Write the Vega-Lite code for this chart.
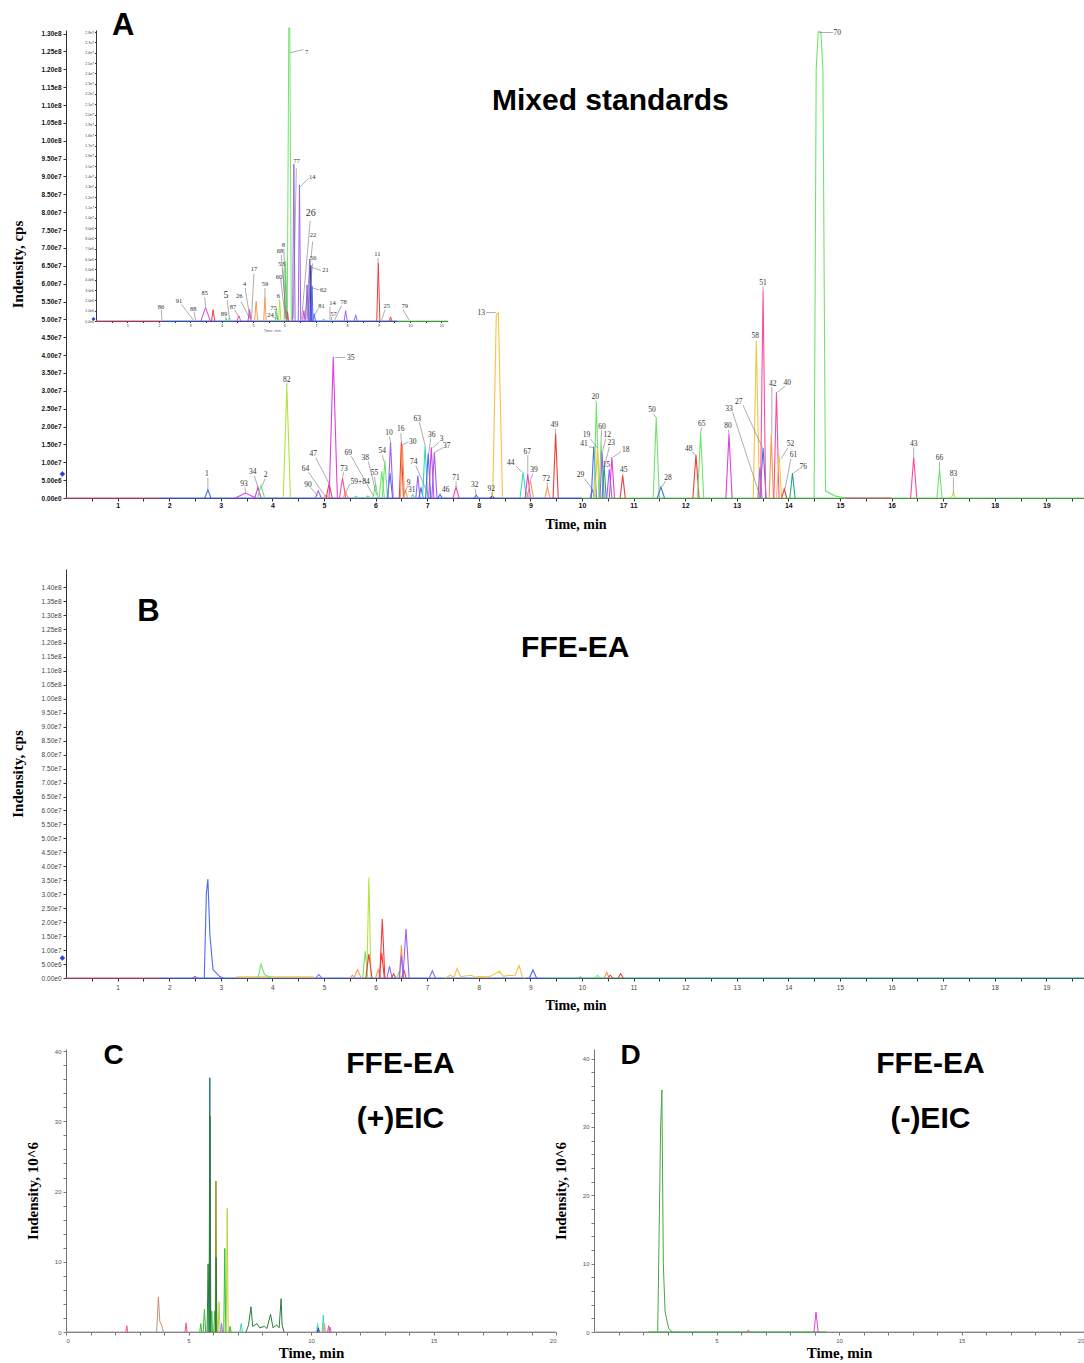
{
"$schema":"https://vega.github.io/schema/vega-lite/v6.json",
"padding":{"left":10,"top":10,"right":0,"bottom":0},
"background":"white",
"config":{"view":{"stroke":null},"axis":{"grid":false,"labelOverlap":false,"labelBound":false,"domainColor":"#333","tickColor":"#333"},"line":{"strokeWidth":1.1}},
"datasets":{
"one":[{}],
"A":[
{"s":"bA1","c":"basered","t":0,"v":0},{"s":"bA1","c":"basered","t":1.8,"v":0},
{"s":"bA2","c":"blue","t":1.8,"v":0},{"s":"bA2","c":"blue","t":10.0,"v":0},
{"s":"bA3","c":"green","t":10.0,"v":0},{"s":"bA3","c":"green","t":19.75,"v":0},
{"s":"bA4","c":"basered","t":15.1,"v":0},{"s":"bA4","c":"basered","t":16.0,"v":0},
{"s":"a1","c":"blue","t":2.69,"v":0},{"s":"a1","c":"blue","t":2.75,"v":2.3},{"s":"a1","c":"blue","t":2.81,"v":0},
{"s":"a93","c":"magenta","t":3.28,"v":0},{"s":"a93","c":"magenta","t":3.48,"v":1.4},{"s":"a93","c":"magenta","t":3.68,"v":0},
{"s":"a34","c":"magenta","t":3.66,"v":0},{"s":"a34","c":"magenta","t":3.72,"v":3.0},{"s":"a34","c":"magenta","t":3.78,"v":0},
{"s":"a2","c":"green","t":3.71,"v":0},{"s":"a2","c":"green","t":3.78,"v":3.5},{"s":"a2","c":"green","t":3.85,"v":0},
{"s":"a82","c":"lime","t":4.21,"v":0},{"s":"a82","c":"lime","t":4.28,"v":31.2},{"s":"a82","c":"lime","t":4.35,"v":0},
{"s":"a90","c":"purple","t":4.83,"v":0},{"s":"a90","c":"purple","t":4.89,"v":2.0},{"s":"a90","c":"purple","t":4.95,"v":0},
{"s":"a64","c":"orange","t":4.99,"v":0},{"s":"a64","c":"orange","t":5.04,"v":0.8},{"s":"a64","c":"orange","t":5.09,"v":0},
{"s":"a47","c":"red","t":5.04,"v":0},{"s":"a47","c":"red","t":5.1,"v":4.0},{"s":"a47","c":"red","t":5.16,"v":0},
{"s":"a35","c":"magenta","t":5.1,"v":0},{"s":"a35","c":"magenta","t":5.18,"v":39.5},{"s":"a35","c":"magenta","t":5.26,"v":0},
{"s":"a73","c":"pink","t":5.3,"v":0},{"s":"a73","c":"pink","t":5.36,"v":5.6},{"s":"a73","c":"pink","t":5.42,"v":0},
{"s":"a59","c":"orange","t":5.37,"v":0},{"s":"a59","c":"orange","t":5.42,"v":1.6},{"s":"a59","c":"orange","t":5.47,"v":0},
{"s":"a69","c":"green","t":5.57,"v":0},{"s":"a69","c":"green","t":5.62,"v":0.5},{"s":"a69","c":"green","t":5.67,"v":0},
{"s":"a38","c":"green","t":5.8,"v":0},{"s":"a38","c":"green","t":5.85,"v":0.6},{"s":"a38","c":"green","t":5.9,"v":0},
{"s":"a55","c":"green","t":5.95,"v":0},{"s":"a55","c":"green","t":6.0,"v":4.0},{"s":"a55","c":"green","t":6.05,"v":0},
{"s":"a54b","c":"green","t":6.07,"v":0},{"s":"a54b","c":"green","t":6.12,"v":7.5},{"s":"a54b","c":"green","t":6.17,"v":0},
{"s":"a54","c":"green","t":6.13,"v":0},{"s":"a54","c":"green","t":6.18,"v":10.5},{"s":"a54","c":"green","t":6.23,"v":0},
{"s":"a10b","c":"blue","t":6.23,"v":0},{"s":"a10b","c":"blue","t":6.28,"v":7.0},{"s":"a10b","c":"blue","t":6.33,"v":0},
{"s":"a10","c":"purple","t":6.24,"v":0},{"s":"a10","c":"purple","t":6.29,"v":15.6},{"s":"a10","c":"purple","t":6.34,"v":0},
{"s":"a16","c":"red","t":6.46,"v":0},{"s":"a16","c":"red","t":6.5,"v":15.6},{"s":"a16","c":"red","t":6.54,"v":0},
{"s":"a30","c":"orange","t":6.48,"v":0},{"s":"a30","c":"orange","t":6.52,"v":15.0},{"s":"a30","c":"orange","t":6.56,"v":0},
{"s":"a9","c":"orange","t":6.54,"v":0},{"s":"a9","c":"orange","t":6.58,"v":2.0},{"s":"a9","c":"orange","t":6.62,"v":0},
{"s":"a31","c":"green","t":6.68,"v":0},{"s":"a31","c":"green","t":6.72,"v":1.0},{"s":"a31","c":"green","t":6.76,"v":0},
{"s":"a74","c":"purple","t":6.78,"v":0},{"s":"a74","c":"purple","t":6.82,"v":6.3},{"s":"a74","c":"purple","t":6.86,"v":0},
{"s":"a74b","c":"blue","t":6.84,"v":0},{"s":"a74b","c":"blue","t":6.88,"v":3.0},{"s":"a74b","c":"blue","t":6.92,"v":0},
{"s":"a63","c":"cyan","t":6.91,"v":0},{"s":"a63","c":"cyan","t":6.96,"v":14.7},{"s":"a63","c":"cyan","t":7.01,"v":0},
{"s":"a36","c":"blue","t":6.97,"v":0},{"s":"a36","c":"blue","t":7.02,"v":12.5},{"s":"a36","c":"blue","t":7.07,"v":0},
{"s":"a3","c":"magenta","t":7.03,"v":0},{"s":"a3","c":"magenta","t":7.08,"v":14.2},{"s":"a3","c":"magenta","t":7.13,"v":0},
{"s":"a37","c":"purple","t":7.09,"v":0},{"s":"a37","c":"purple","t":7.14,"v":12.8},{"s":"a37","c":"purple","t":7.19,"v":0},
{"s":"a46","c":"blue","t":7.21,"v":0},{"s":"a46","c":"blue","t":7.25,"v":1.0},{"s":"a46","c":"blue","t":7.29,"v":0},
{"s":"a71","c":"pink","t":7.5,"v":0},{"s":"a71","c":"pink","t":7.56,"v":3.0},{"s":"a71","c":"pink","t":7.62,"v":0},
{"s":"a32","c":"blue","t":7.91,"v":0},{"s":"a32","c":"blue","t":7.95,"v":0.8},{"s":"a32","c":"blue","t":7.99,"v":0},
{"s":"a92","c":"navy","t":8.22,"v":0},{"s":"a92","c":"navy","t":8.26,"v":0.5},{"s":"a92","c":"navy","t":8.3,"v":0},
{"s":"a13","c":"yellow","t":8.27,"v":0},{"s":"a13","c":"yellow","t":8.34,"v":51.4},{"s":"a13","c":"yellow","t":8.38,"v":51.8},{"s":"a13","c":"yellow","t":8.46,"v":0},
{"s":"a44","c":"cyan","t":8.8,"v":0},{"s":"a44","c":"cyan","t":8.86,"v":7.2},{"s":"a44","c":"cyan","t":8.92,"v":0},
{"s":"a44b","c":"green","t":8.89,"v":0},{"s":"a44b","c":"green","t":8.93,"v":1.5},{"s":"a44b","c":"green","t":8.97,"v":0},
{"s":"a67","c":"magenta","t":8.9,"v":0},{"s":"a67","c":"magenta","t":8.95,"v":6.7},{"s":"a67","c":"magenta","t":9.0,"v":0},
{"s":"a39","c":"orange","t":8.94,"v":0},{"s":"a39","c":"orange","t":9.0,"v":4.9},{"s":"a39","c":"orange","t":9.06,"v":0},
{"s":"a72","c":"orange","t":9.28,"v":0},{"s":"a72","c":"orange","t":9.33,"v":3.1},{"s":"a72","c":"orange","t":9.38,"v":0},
{"s":"a49","c":"red","t":9.44,"v":0},{"s":"a49","c":"red","t":9.49,"v":18.0},{"s":"a49","c":"red","t":9.54,"v":0},
{"s":"a29","c":"purple","t":10.16,"v":0},{"s":"a29","c":"purple","t":10.2,"v":2.5},{"s":"a29","c":"purple","t":10.24,"v":0},
{"s":"a41","c":"blue","t":10.18,"v":0},{"s":"a41","c":"blue","t":10.23,"v":14.5},{"s":"a41","c":"blue","t":10.28,"v":0},
{"s":"a20","c":"green","t":10.23,"v":0},{"s":"a20","c":"green","t":10.28,"v":26.7},{"s":"a20","c":"green","t":10.33,"v":0},
{"s":"a19","c":"yellow","t":10.25,"v":0},{"s":"a19","c":"yellow","t":10.3,"v":14.0},{"s":"a19","c":"yellow","t":10.35,"v":0},
{"s":"a60","c":"green","t":10.33,"v":0},{"s":"a60","c":"green","t":10.37,"v":16.0},{"s":"a60","c":"green","t":10.41,"v":0},
{"s":"a12","c":"purple","t":10.35,"v":0},{"s":"a12","c":"purple","t":10.39,"v":13.0},{"s":"a12","c":"purple","t":10.43,"v":0},
{"s":"a23","c":"teal","t":10.39,"v":0},{"s":"a23","c":"teal","t":10.43,"v":9.0},{"s":"a23","c":"teal","t":10.47,"v":0},
{"s":"a15","c":"purple","t":10.48,"v":0},{"s":"a15","c":"purple","t":10.53,"v":8.0},{"s":"a15","c":"purple","t":10.58,"v":0},
{"s":"a18","c":"magenta","t":10.53,"v":0},{"s":"a18","c":"magenta","t":10.58,"v":11.4},{"s":"a18","c":"magenta","t":10.63,"v":0},
{"s":"a45","c":"red","t":10.74,"v":0},{"s":"a45","c":"red","t":10.79,"v":6.3},{"s":"a45","c":"red","t":10.84,"v":0},
{"s":"a50","c":"green","t":11.38,"v":0},{"s":"a50","c":"green","t":11.44,"v":22.5},{"s":"a50","c":"green","t":11.5,"v":0},
{"s":"a28","c":"blue","t":11.46,"v":0},{"s":"a28","c":"blue","t":11.53,"v":3.1},{"s":"a28","c":"blue","t":11.6,"v":0},
{"s":"a48","c":"red","t":12.15,"v":0},{"s":"a48","c":"red","t":12.21,"v":12.1},{"s":"a48","c":"red","t":12.27,"v":0},
{"s":"a65","c":"green","t":12.24,"v":0},{"s":"a65","c":"green","t":12.3,"v":18.2},{"s":"a65","c":"green","t":12.36,"v":0},
{"s":"a80","c":"magenta","t":12.79,"v":0},{"s":"a80","c":"magenta","t":12.85,"v":17.9},{"s":"a80","c":"magenta","t":12.91,"v":0},
{"s":"a58","c":"yellow","t":13.32,"v":0},{"s":"a58","c":"yellow","t":13.38,"v":44.0},{"s":"a58","c":"yellow","t":13.44,"v":0},
{"s":"a33","c":"purple","t":13.41,"v":0},{"s":"a33","c":"purple","t":13.45,"v":8.5},{"s":"a33","c":"purple","t":13.49,"v":0},
{"s":"a27","c":"blue","t":13.45,"v":0},{"s":"a27","c":"blue","t":13.51,"v":14.0},{"s":"a27","c":"blue","t":13.57,"v":0},
{"s":"a51","c":"pink","t":13.46,"v":0},{"s":"a51","c":"pink","t":13.51,"v":58.0},{"s":"a51","c":"pink","t":13.56,"v":0},
{"s":"a42","c":"orange","t":13.63,"v":0},{"s":"a42","c":"orange","t":13.67,"v":17.7},{"s":"a42","c":"orange","t":13.71,"v":0},
{"s":"a40","c":"pink","t":13.72,"v":0},{"s":"a40","c":"pink","t":13.77,"v":29.6},{"s":"a40","c":"pink","t":13.82,"v":0},
{"s":"a52","c":"yellow","t":13.77,"v":0},{"s":"a52","c":"yellow","t":13.82,"v":12.1},{"s":"a52","c":"yellow","t":13.87,"v":0},
{"s":"a61","c":"red","t":13.87,"v":0},{"s":"a61","c":"red","t":13.92,"v":2.5},{"s":"a61","c":"red","t":13.97,"v":0},
{"s":"a76","c":"teal","t":14.03,"v":0},{"s":"a76","c":"teal","t":14.08,"v":7.0},{"s":"a76","c":"teal","t":14.13,"v":0},
{"s":"a70","c":"green","t":14.5,"v":0},{"s":"a70","c":"green","t":14.54,"v":120},{"s":"a70","c":"green","t":14.58,"v":130.5},{"s":"a70","c":"green","t":14.63,"v":130.5},{"s":"a70","c":"green","t":14.67,"v":120},{"s":"a70","c":"green","t":14.72,"v":2},{"s":"a70","c":"green","t":14.9,"v":0.6},{"s":"a70","c":"green","t":15.1,"v":0},
{"s":"a43","c":"pink","t":16.37,"v":0},{"s":"a43","c":"pink","t":16.43,"v":11.4},{"s":"a43","c":"pink","t":16.49,"v":0},
{"s":"a66","c":"green","t":16.88,"v":0},{"s":"a66","c":"green","t":16.93,"v":8.0},{"s":"a66","c":"green","t":16.98,"v":0},
{"s":"a83","c":"lime","t":17.16,"v":0},{"s":"a83","c":"lime","t":17.2,"v":1.5},{"s":"a83","c":"lime","t":17.24,"v":0}
],
"AL":[
{"lab":"1","t":2.73,"v":6.7},{"lab":"93","t":3.45,"v":3.9},{"lab":"34","t":3.62,"v":7.2},{"lab":"2","t":3.87,"v":6.3},
{"lab":"82","t":4.28,"v":33},{"lab":"90","t":4.69,"v":3.7},{"lab":"64","t":4.64,"v":8.2},{"lab":"47","t":4.79,"v":12.4},
{"lab":"35","t":5.52,"v":39.3},{"lab":"73","t":5.39,"v":8.2},{"lab":"59+84","t":5.7,"v":4.6},{"lab":"69","t":5.47,"v":12.7},
{"lab":"38","t":5.8,"v":11.2},{"lab":"55","t":5.98,"v":6.9},{"lab":"54","t":6.13,"v":13.1},{"lab":"10","t":6.26,"v":18.2},
{"lab":"16","t":6.49,"v":19.2},{"lab":"30","t":6.72,"v":15.7},{"lab":"9","t":6.64,"v":4.2},{"lab":"31","t":6.7,"v":2.2},
{"lab":"74","t":6.74,"v":10},{"lab":"63","t":6.81,"v":22.2},{"lab":"36","t":7.09,"v":17.7},{"lab":"3","t":7.28,"v":16.4},
{"lab":"37","t":7.38,"v":14.5},{"lab":"46","t":7.36,"v":2.2},{"lab":"71","t":7.56,"v":5.6},{"lab":"32","t":7.92,"v":3.5},
{"lab":"92","t":8.24,"v":2.5},{"lab":"13","t":8.05,"v":51.9},{"lab":"44","t":8.62,"v":9.9},{"lab":"67","t":8.94,"v":13},
{"lab":"39","t":9.07,"v":7.8},{"lab":"72","t":9.31,"v":5.4},{"lab":"49","t":9.47,"v":20.4},{"lab":"29","t":9.97,"v":6.4},
{"lab":"41","t":10.04,"v":15},{"lab":"19","t":10.09,"v":17.6},{"lab":"20","t":10.26,"v":28.3},{"lab":"60","t":10.39,"v":20},
{"lab":"12","t":10.49,"v":17.6},{"lab":"23","t":10.57,"v":15.3},{"lab":"15","t":10.47,"v":9.2},{"lab":"18","t":10.85,"v":13.4},
{"lab":"45","t":10.81,"v":7.8},{"lab":"50","t":11.36,"v":24.6},{"lab":"28","t":11.67,"v":5.7},{"lab":"48","t":12.07,"v":13.8},
{"lab":"65","t":12.32,"v":20.8},{"lab":"80","t":12.83,"v":20.1},{"lab":"33","t":12.85,"v":25},{"lab":"27","t":13.04,"v":27},
{"lab":"58","t":13.36,"v":45.4},{"lab":"51","t":13.51,"v":60.3},{"lab":"42","t":13.7,"v":32},{"lab":"40","t":13.98,"v":32.3},
{"lab":"52","t":14.04,"v":15},{"lab":"61","t":14.1,"v":12},{"lab":"76","t":14.29,"v":8.8},{"lab":"43","t":16.43,"v":15.2},
{"lab":"66","t":16.93,"v":11.1},{"lab":"83","t":17.2,"v":6.8},{"lab":"70","t":14.95,"v":130.3}
],
"AD":[
{"t":2.75,"v":5.6,"t2":2.75,"v2":2.3},{"t":3.47,"v":3.0,"t2":3.48,"v2":1.4},{"t":3.65,"v":6.2,"t2":3.72,"v2":3.0},{"t":3.86,"v":5.4,"t2":3.8,"v2":3.4},
{"t":4.28,"v":32.2,"t2":4.28,"v2":31.2},{"t":4.74,"v":3.0,"t2":4.88,"v2":0.6},{"t":4.7,"v":7.2,"t2":5.02,"v2":0.6},{"t":4.84,"v":11.3,"t2":5.1,"v2":4.0},
{"t":5.21,"v":39.3,"t2":5.41,"v2":39.3},{"t":5.38,"v":7.2,"t2":5.36,"v2":5.6},{"t":5.5,"v":3.9,"t2":5.42,"v2":1.4},{"t":5.53,"v":11.7,"t2":5.95,"v2":0.8},
{"t":5.86,"v":10.2,"t2":6.02,"v2":0.8},{"t":5.98,"v":5.9,"t2":6.0,"v2":4.0},{"t":6.13,"v":12.0,"t2":6.16,"v2":10.3},{"t":6.27,"v":17.2,"t2":6.29,"v2":15.6},
{"t":6.49,"v":18.2,"t2":6.5,"v2":15.6},{"t":6.64,"v":15.7,"t2":6.53,"v2":15.0},{"t":6.62,"v":3.4,"t2":6.57,"v2":1.6},{"t":6.78,"v":9.0,"t2":7.02,"v2":1.0},
{"t":6.85,"v":21.2,"t2":6.96,"v2":14.7},{"t":7.07,"v":16.7,"t2":7.03,"v2":12.5},{"t":7.24,"v":15.7,"t2":7.1,"v2":14.0},{"t":7.3,"v":14.0,"t2":7.15,"v2":12.8},
{"t":7.56,"v":4.6,"t2":7.56,"v2":3.0},{"t":7.93,"v":2.6,"t2":7.95,"v2":0.8},{"t":8.25,"v":1.6,"t2":8.26,"v2":0.5},{"t":8.14,"v":51.9,"t2":8.33,"v2":51.9},
{"t":8.72,"v":9.0,"t2":8.84,"v2":7.2},{"t":8.95,"v":12.0,"t2":8.95,"v2":6.7},{"t":9.05,"v":6.8,"t2":9.0,"v2":4.9},{"t":9.33,"v":4.4,"t2":9.33,"v2":3.1},
{"t":9.48,"v":19.4,"t2":9.49,"v2":18.0},{"t":10.05,"v":5.4,"t2":10.2,"v2":2.5},{"t":10.16,"v":16.6,"t2":10.3,"v2":14.0},{"t":10.13,"v":14.4,"t2":10.23,"v2":14.0},
{"t":10.27,"v":27.3,"t2":10.28,"v2":26.7},{"t":10.38,"v":19.0,"t2":10.37,"v2":16.0},{"t":10.46,"v":16.6,"t2":10.4,"v2":13.0},{"t":10.53,"v":14.3,"t2":10.44,"v2":9.0},
{"t":10.76,"v":13.0,"t2":10.6,"v2":11.4},{"t":10.8,"v":6.8,"t2":10.79,"v2":6.3},{"t":11.38,"v":23.6,"t2":11.44,"v2":22.5},{"t":11.62,"v":4.8,"t2":11.55,"v2":3.1},
{"t":12.13,"v":12.9,"t2":12.2,"v2":12.1},{"t":12.32,"v":19.8,"t2":12.3,"v2":18.2},{"t":12.84,"v":19.1,"t2":12.85,"v2":17.9},{"t":12.92,"v":24.0,"t2":13.44,"v2":1.0},
{"t":13.12,"v":26.0,"t2":13.5,"v2":14.0},{"t":13.51,"v":59.3,"t2":13.51,"v2":58.0},{"t":13.68,"v":31.0,"t2":13.68,"v2":17.7},{"t":13.94,"v":31.3,"t2":13.79,"v2":29.6},
{"t":13.99,"v":14.0,"t2":13.86,"v2":11.0},{"t":14.05,"v":11.0,"t2":13.93,"v2":2.0},{"t":14.22,"v":8.2,"t2":14.1,"v2":7.0},{"t":14.6,"v":130.3,"t2":14.87,"v2":130.3},
{"t":16.43,"v":14.2,"t2":16.43,"v2":11.4},{"t":16.93,"v":10.1,"t2":16.93,"v2":8.0},{"t":17.2,"v":5.8,"t2":17.2,"v2":1.5}
],
"I":[
{"s":"ib1","c":"basered","t":0,"v":0},{"s":"ib1","c":"basered","t":2.1,"v":0},
{"s":"ib2","c":"blue","t":2.1,"v":0},{"s":"ib2","c":"blue","t":9.6,"v":0},
{"s":"ib3","c":"green","t":9.6,"v":0},{"s":"ib3","c":"green","t":11.2,"v":0},
{"s":"i85","c":"magenta","t":3.34,"v":0},{"s":"i85","c":"magenta","t":3.49,"v":1.3},{"s":"i85","c":"magenta","t":3.64,"v":0},
{"s":"i85r","c":"red","t":3.68,"v":0},{"s":"i85r","c":"red","t":3.73,"v":1.1},{"s":"i85r","c":"red","t":3.78,"v":0},
{"s":"i89","c":"green","t":4.11,"v":0},{"s":"i89","c":"green","t":4.15,"v":0.2},{"s":"i89","c":"green","t":4.19,"v":0},
{"s":"i5","c":"green","t":4.21,"v":0},{"s":"i5","c":"green","t":4.25,"v":0.3},{"s":"i5","c":"green","t":4.29,"v":0},
{"s":"i87","c":"pink","t":4.49,"v":0},{"s":"i87","c":"pink","t":4.55,"v":0.5},{"s":"i87","c":"pink","t":4.61,"v":0},
{"s":"i4","c":"magenta","t":4.84,"v":0},{"s":"i4","c":"magenta","t":4.89,"v":1.1},{"s":"i4","c":"magenta","t":4.94,"v":0},
{"s":"i17","c":"orange","t":5.05,"v":0},{"s":"i17","c":"orange","t":5.1,"v":1.9},{"s":"i17","c":"orange","t":5.15,"v":0},
{"s":"i59","c":"orange","t":5.34,"v":0},{"s":"i59","c":"orange","t":5.38,"v":2.3},{"s":"i59","c":"orange","t":5.42,"v":0},
{"s":"i75","c":"green","t":5.71,"v":0},{"s":"i75","c":"green","t":5.75,"v":1.2},{"s":"i75","c":"green","t":5.79,"v":0},
{"s":"i24","c":"cyan","t":5.76,"v":0},{"s":"i24","c":"cyan","t":5.8,"v":0.3},{"s":"i24","c":"cyan","t":5.84,"v":0},
{"s":"i6","c":"lime","t":5.81,"v":0},{"s":"i6","c":"lime","t":5.85,"v":1.9},{"s":"i6","c":"lime","t":5.89,"v":0},
{"s":"i8","c":"green","t":5.99,"v":0},{"s":"i8","c":"green","t":6.04,"v":5.8},{"s":"i8","c":"green","t":6.09,"v":0},
{"s":"i7","c":"green","t":6.09,"v":0},{"s":"i7","c":"green","t":6.14,"v":28.4},{"s":"i7","c":"green","t":6.17,"v":28.4},{"s":"i7","c":"green","t":6.22,"v":0},
{"s":"i7r","c":"red","t":6.07,"v":0},{"s":"i7r","c":"red","t":6.1,"v":0.9},{"s":"i7r","c":"red","t":6.13,"v":0},
{"s":"i77","c":"purple","t":6.26,"v":0},{"s":"i77","c":"purple","t":6.3,"v":15.2},{"s":"i77","c":"purple","t":6.34,"v":0},
{"s":"i14","c":"purple","t":6.44,"v":0},{"s":"i14","c":"purple","t":6.48,"v":13.2},{"s":"i14","c":"purple","t":6.52,"v":0},
{"s":"i26","c":"magenta","t":6.58,"v":0},{"s":"i26","c":"magenta","t":6.62,"v":1.0},{"s":"i26","c":"magenta","t":6.66,"v":0},
{"s":"i22","c":"purple","t":6.68,"v":0},{"s":"i22","c":"purple","t":6.72,"v":3.5},{"s":"i22","c":"purple","t":6.76,"v":0},
{"s":"i56","c":"purple","t":6.76,"v":0},{"s":"i56","c":"purple","t":6.8,"v":6.0},{"s":"i56","c":"purple","t":6.84,"v":0},
{"s":"i21","c":"navy","t":6.81,"v":0},{"s":"i21","c":"navy","t":6.84,"v":5.4},{"s":"i21","c":"navy","t":6.87,"v":0},
{"s":"i62","c":"blue","t":6.85,"v":0},{"s":"i62","c":"blue","t":6.88,"v":3.4},{"s":"i62","c":"blue","t":6.91,"v":0},
{"s":"i81","c":"blue","t":6.91,"v":0},{"s":"i81","c":"blue","t":6.95,"v":0.7},{"s":"i81","c":"blue","t":6.99,"v":0},
{"s":"i72c","c":"cyan","t":7.2,"v":0},{"s":"i72c","c":"cyan","t":7.25,"v":0.2},{"s":"i72c","c":"cyan","t":7.3,"v":0},
{"s":"i78","c":"purple","t":7.9,"v":0},{"s":"i78","c":"purple","t":7.95,"v":1.0},{"s":"i78","c":"purple","t":8.0,"v":0},
{"s":"i78b","c":"purple","t":8.22,"v":0},{"s":"i78b","c":"purple","t":8.27,"v":0.6},{"s":"i78b","c":"purple","t":8.32,"v":0},
{"s":"i11","c":"red","t":8.94,"v":0},{"s":"i11","c":"red","t":8.99,"v":5.6},{"s":"i11","c":"red","t":9.04,"v":0},
{"s":"i25","c":"red","t":9.34,"v":0},{"s":"i25","c":"red","t":9.38,"v":0.4},{"s":"i25","c":"red","t":9.42,"v":0}
],
"IL":[
{"lab":"7","t":6.71,"v":26.1},{"lab":"77","t":6.39,"v":15.5},{"lab":"14","t":6.89,"v":14},{"lab":"22","t":6.91,"v":8.3},
{"lab":"56","t":6.92,"v":6.1},{"lab":"21","t":7.31,"v":4.9},{"lab":"62","t":7.24,"v":3.0},{"lab":"81","t":7.18,"v":1.5},
{"lab":"14","t":7.53,"v":1.7},{"lab":"57","t":7.56,"v":0.7},{"lab":"78","t":7.88,"v":1.8},{"lab":"11","t":8.96,"v":6.5},
{"lab":"25","t":9.26,"v":1.5},{"lab":"79","t":9.83,"v":1.5},{"lab":"8","t":5.97,"v":7.4},{"lab":"68","t":5.86,"v":6.8},
{"lab":"53","t":5.91,"v":5.5},{"lab":"60","t":5.83,"v":4.3},{"lab":"6","t":5.81,"v":2.4},{"lab":"75","t":5.65,"v":1.3},
{"lab":"24","t":5.56,"v":0.55},{"lab":"59","t":5.38,"v":3.6},{"lab":"17","t":5.03,"v":5.0},{"lab":"4","t":4.73,"v":3.6},
{"lab":"26","t":4.56,"v":2.4},{"lab":"87","t":4.36,"v":1.4},{"lab":"89","t":4.08,"v":0.7},{"lab":"85","t":3.46,"v":2.7},
{"lab":"88","t":3.1,"v":1.2},{"lab":"91","t":2.64,"v":1.9},{"lab":"86","t":2.07,"v":1.4}
],
"ILB":[{"lab":"26","t":6.84,"v":10.5},{"lab":"5","t":4.14,"v":2.5}],
"ID":[
{"t":6.18,"v":26.0,"t2":6.6,"v2":26.3},{"t":6.38,"v":14.8,"t2":6.28,"v2":0.2},{"t":6.76,"v":13.8,"t2":6.5,"v2":13.0},{"t":6.82,"v":9.7,"t2":6.55,"v2":0.2},
{"t":6.9,"v":7.7,"t2":6.65,"v2":0.2},{"t":6.9,"v":5.6,"t2":6.72,"v2":0.2},{"t":7.16,"v":4.9,"t2":6.86,"v2":5.2},{"t":7.11,"v":3.0,"t2":6.89,"v2":3.2},
{"t":7.08,"v":1.2,"t2":6.95,"v2":0.5},{"t":7.45,"v":1.4,"t2":7.45,"v2":0.1},{"t":7.5,"v":0.4,"t2":7.5,"v2":0.1},{"t":7.82,"v":1.5,"t2":7.6,"v2":0.1},
{"t":8.98,"v":6.1,"t2":8.98,"v2":5.6},{"t":9.2,"v":1.1,"t2":9.1,"v2":0.1},{"t":9.78,"v":1.1,"t2":9.97,"v2":0.1},{"t":5.98,"v":7.0,"t2":6.08,"v2":0.2},
{"t":5.9,"v":6.4,"t2":6.06,"v2":0.2},{"t":5.95,"v":5.1,"t2":6.05,"v2":0.2},{"t":5.88,"v":4.1,"t2":6.03,"v2":0.2},{"t":5.83,"v":2.1,"t2":5.85,"v2":1.9},
{"t":5.7,"v":1.0,"t2":5.78,"v2":0.2},{"t":5.63,"v":0.4,"t2":5.75,"v2":0.2},{"t":5.38,"v":3.2,"t2":5.38,"v2":2.3},{"t":5.03,"v":4.6,"t2":4.95,"v2":0.2},
{"t":4.75,"v":3.2,"t2":4.9,"v2":0.3},{"t":4.62,"v":1.9,"t2":4.9,"v2":0.2},{"t":4.18,"v":2.0,"t2":4.25,"v2":0.2},{"t":4.42,"v":1.1,"t2":4.55,"v2":0.3},
{"t":4.12,"v":0.4,"t2":4.15,"v2":0.1},{"t":3.46,"v":2.3,"t2":3.49,"v2":1.3},{"t":3.12,"v":0.9,"t2":3.17,"v2":0.1},{"t":2.72,"v":1.6,"t2":3.1,"v2":0.1},
{"t":2.08,"v":1.1,"t2":2.1,"v2":0.1}
],
"B":[
{"s":"bb1","c":"basered","t":0,"v":0},{"s":"bb1","c":"basered","t":1.8,"v":0},
{"s":"bb2","c":"blue","t":1.8,"v":0},{"s":"bb2","c":"blue","t":9.3,"v":0},
{"s":"bb3","c":"teal","t":9.3,"v":0},{"s":"bb3","c":"teal","t":19.75,"v":0},
{"s":"bb4","c":"yellow","t":3.3,"v":0.4},{"s":"bb4","c":"yellow","t":4.8,"v":0.4},
{"s":"b1","c":"purple","t":2.45,"v":0},{"s":"b1","c":"purple","t":2.5,"v":0.6},{"s":"b1","c":"purple","t":2.55,"v":0},
{"s":"b2","c":"blue","t":2.68,"v":0},{"s":"b2","c":"blue","t":2.72,"v":30},{"s":"b2","c":"blue","t":2.75,"v":35.4},{"s":"b2","c":"blue","t":2.79,"v":15},{"s":"b2","c":"blue","t":2.85,"v":3},{"s":"b2","c":"blue","t":2.98,"v":0.5},{"s":"b2","c":"blue","t":3.05,"v":0},
{"s":"b3","c":"green","t":3.72,"v":0},{"s":"b3","c":"green","t":3.78,"v":4.9},{"s":"b3","c":"green","t":3.85,"v":1.2},{"s":"b3","c":"green","t":3.95,"v":0.4},{"s":"b3","c":"green","t":4.0,"v":0},
{"s":"b4","c":"purple","t":4.84,"v":0},{"s":"b4","c":"purple","t":4.9,"v":1.2},{"s":"b4","c":"purple","t":4.96,"v":0},
{"s":"b5","c":"orange","t":5.5,"v":0},{"s":"b5","c":"orange","t":5.55,"v":1.0},{"s":"b5","c":"orange","t":5.6,"v":0},
{"s":"b6","c":"orange","t":5.58,"v":0},{"s":"b6","c":"orange","t":5.65,"v":3.0},{"s":"b6","c":"orange","t":5.72,"v":0},
{"s":"b7","c":"green","t":5.75,"v":0},{"s":"b7","c":"green","t":5.8,"v":9.6},{"s":"b7","c":"green","t":5.85,"v":0},
{"s":"b8","c":"lime","t":5.83,"v":0},{"s":"b8","c":"lime","t":5.87,"v":36.0},{"s":"b8","c":"lime","t":5.91,"v":0},
{"s":"b9","c":"red","t":5.81,"v":0},{"s":"b9","c":"red","t":5.87,"v":8.6},{"s":"b9","c":"red","t":5.93,"v":0},
{"s":"b10","c":"orange","t":6.0,"v":0},{"s":"b10","c":"orange","t":6.05,"v":3.0},{"s":"b10","c":"orange","t":6.1,"v":0},
{"s":"b11","c":"red","t":6.08,"v":0},{"s":"b11","c":"red","t":6.13,"v":21.1},{"s":"b11","c":"red","t":6.18,"v":0},
{"s":"b12","c":"red","t":6.07,"v":0},{"s":"b12","c":"red","t":6.12,"v":9.0},{"s":"b12","c":"red","t":6.17,"v":0},
{"s":"b13","c":"purple","t":6.22,"v":0},{"s":"b13","c":"purple","t":6.27,"v":4.2},{"s":"b13","c":"purple","t":6.32,"v":0},
{"s":"b14","c":"red","t":6.31,"v":0},{"s":"b14","c":"red","t":6.35,"v":1.5},{"s":"b14","c":"red","t":6.39,"v":0},
{"s":"b15","c":"green","t":6.41,"v":0},{"s":"b15","c":"green","t":6.45,"v":2.0},{"s":"b15","c":"green","t":6.49,"v":0},
{"s":"b16","c":"orange","t":6.46,"v":0},{"s":"b16","c":"orange","t":6.5,"v":11.7},{"s":"b16","c":"orange","t":6.54,"v":0},
{"s":"b17","c":"purple","t":6.46,"v":0},{"s":"b17","c":"purple","t":6.5,"v":8.0},{"s":"b17","c":"purple","t":6.54,"v":0},
{"s":"b18","c":"red","t":6.51,"v":0},{"s":"b18","c":"red","t":6.55,"v":3.0},{"s":"b18","c":"red","t":6.59,"v":0},
{"s":"b19","c":"purple","t":6.53,"v":0},{"s":"b19","c":"purple","t":6.59,"v":17.6},{"s":"b19","c":"purple","t":6.65,"v":0},
{"s":"b20","c":"purple","t":7.04,"v":0},{"s":"b20","c":"purple","t":7.1,"v":2.6},{"s":"b20","c":"purple","t":7.16,"v":0},
{"s":"b21","c":"yellow","t":7.35,"v":0},{"s":"b21","c":"yellow","t":7.45,"v":1.0},{"s":"b21","c":"yellow","t":7.52,"v":0.3},{"s":"b21","c":"yellow","t":7.58,"v":3.4},{"s":"b21","c":"yellow","t":7.65,"v":0.5},{"s":"b21","c":"yellow","t":7.85,"v":1.0},{"s":"b21","c":"yellow","t":7.95,"v":0.3},{"s":"b21","c":"yellow","t":8.0,"v":0.5},{"s":"b21","c":"yellow","t":8.2,"v":0.4},{"s":"b21","c":"yellow","t":8.4,"v":2.4},{"s":"b21","c":"yellow","t":8.48,"v":0.6},{"s":"b21","c":"yellow","t":8.6,"v":1.0},{"s":"b21","c":"yellow","t":8.7,"v":0.8},{"s":"b21","c":"yellow","t":8.78,"v":4.5},{"s":"b21","c":"yellow","t":8.85,"v":0.2},{"s":"b21","c":"yellow","t":8.9,"v":0},
{"s":"b22","c":"blue","t":8.98,"v":0},{"s":"b22","c":"blue","t":9.05,"v":2.9},{"s":"b22","c":"blue","t":9.12,"v":0},
{"s":"b23","c":"gray","t":9.93,"v":0},{"s":"b23","c":"gray","t":9.97,"v":0.4},{"s":"b23","c":"gray","t":10.01,"v":0},
{"s":"b24","c":"green","t":10.25,"v":0},{"s":"b24","c":"green","t":10.3,"v":1.0},{"s":"b24","c":"green","t":10.35,"v":0},
{"s":"b25","c":"orange","t":10.43,"v":0},{"s":"b25","c":"orange","t":10.48,"v":2.0},{"s":"b25","c":"orange","t":10.53,"v":0},
{"s":"b26","c":"red","t":10.5,"v":0},{"s":"b26","c":"red","t":10.55,"v":1.0},{"s":"b26","c":"red","t":10.6,"v":0},
{"s":"b27","c":"red","t":10.7,"v":0},{"s":"b27","c":"red","t":10.75,"v":1.5},{"s":"b27","c":"red","t":10.8,"v":0}
],
"C":[
{"s":"cb","c":"gray","t":0,"v":0},{"s":"cb","c":"gray","t":20,"v":0},
{"s":"c1","c":"pink","t":2.44,"v":0},{"s":"c1","c":"pink","t":2.48,"v":0.9},{"s":"c1","c":"pink","t":2.52,"v":0},
{"s":"c2","c":"tan","t":3.7,"v":0},{"s":"c2","c":"tan","t":3.77,"v":5.0},{"s":"c2","c":"tan","t":3.83,"v":1.5},{"s":"c2","c":"tan","t":3.9,"v":1.0},{"s":"c2","c":"tan","t":3.98,"v":0},
{"s":"c3","c":"pink","t":4.86,"v":0},{"s":"c3","c":"pink","t":4.9,"v":1.3},{"s":"c3","c":"pink","t":4.94,"v":0},
{"s":"c4","c":"bgreen","t":5.46,"v":0},{"s":"c4","c":"bgreen","t":5.5,"v":1.2},{"s":"c4","c":"bgreen","t":5.54,"v":0},
{"s":"c5","c":"bgreen","t":5.6,"v":0},{"s":"c5","c":"bgreen","t":5.65,"v":3.2},{"s":"c5","c":"bgreen","t":5.7,"v":0},
{"s":"c6","c":"dgreen","t":5.76,"v":0},{"s":"c6","c":"dgreen","t":5.8,"v":9.7},{"s":"c6","c":"dgreen","t":5.84,"v":0},
{"s":"c7","c":"dteal","t":5.84,"v":0},{"s":"c7","c":"dteal","t":5.87,"v":36.2},{"s":"c7","c":"dteal","t":5.9,"v":0},
{"s":"c8","c":"dgreen","t":5.85,"v":0},{"s":"c8","c":"dgreen","t":5.88,"v":30.7},{"s":"c8","c":"dgreen","t":5.91,"v":0},
{"s":"c9","c":"bgreen","t":5.92,"v":0},{"s":"c9","c":"bgreen","t":5.95,"v":3.0},{"s":"c9","c":"bgreen","t":5.98,"v":0},
{"s":"c10","c":"bgreen","t":6.03,"v":0},{"s":"c10","c":"bgreen","t":6.07,"v":3.0},{"s":"c10","c":"bgreen","t":6.11,"v":0},
{"s":"c11","c":"olive","t":6.09,"v":0},{"s":"c11","c":"olive","t":6.12,"v":21.5},{"s":"c11","c":"olive","t":6.15,"v":0},
{"s":"c12","c":"dgreen","t":6.1,"v":0},{"s":"c12","c":"dgreen","t":6.13,"v":10.6},{"s":"c12","c":"dgreen","t":6.16,"v":0},
{"s":"c13","c":"ygreen","t":6.21,"v":0},{"s":"c13","c":"ygreen","t":6.25,"v":4.3},{"s":"c13","c":"ygreen","t":6.29,"v":0},
{"s":"c14","c":"purple","t":6.31,"v":0},{"s":"c14","c":"purple","t":6.35,"v":1.2},{"s":"c14","c":"purple","t":6.39,"v":0},
{"s":"c15","c":"bgreen","t":6.44,"v":0},{"s":"c15","c":"bgreen","t":6.48,"v":11.9},{"s":"c15","c":"bgreen","t":6.52,"v":0},
{"s":"c16","c":"ygreen","t":6.54,"v":0},{"s":"c16","c":"ygreen","t":6.58,"v":17.6},{"s":"c16","c":"ygreen","t":6.62,"v":0},
{"s":"c17","c":"bgreen","t":6.66,"v":0},{"s":"c17","c":"bgreen","t":6.7,"v":0.8},{"s":"c17","c":"bgreen","t":6.74,"v":0},
{"s":"c18","c":"cyan","t":7.1,"v":0},{"s":"c18","c":"cyan","t":7.15,"v":1.2},{"s":"c18","c":"cyan","t":7.2,"v":0},
{"s":"c19","c":"dgreen","t":7.35,"v":0},{"s":"c19","c":"dgreen","t":7.45,"v":1.0},{"s":"c19","c":"dgreen","t":7.55,"v":3.6},{"s":"c19","c":"dgreen","t":7.62,"v":0.8},{"s":"c19","c":"dgreen","t":7.8,"v":1.2},{"s":"c19","c":"dgreen","t":7.9,"v":0.6},{"s":"c19","c":"dgreen","t":8.1,"v":0.8},{"s":"c19","c":"dgreen","t":8.2,"v":0.5},{"s":"c19","c":"dgreen","t":8.35,"v":2.5},{"s":"c19","c":"dgreen","t":8.45,"v":0.6},{"s":"c19","c":"dgreen","t":8.6,"v":1.0},{"s":"c19","c":"dgreen","t":8.7,"v":0.6},{"s":"c19","c":"dgreen","t":8.78,"v":4.75},{"s":"c19","c":"dgreen","t":8.82,"v":1.0},{"s":"c19","c":"dgreen","t":8.9,"v":0},
{"s":"c20","c":"cyan","t":10.23,"v":0},{"s":"c20","c":"cyan","t":10.27,"v":1.2},{"s":"c20","c":"cyan","t":10.31,"v":0},
{"s":"c21","c":"navy","t":10.26,"v":0},{"s":"c21","c":"navy","t":10.3,"v":0.6},{"s":"c21","c":"navy","t":10.34,"v":0},
{"s":"c22","c":"cyan","t":10.46,"v":0},{"s":"c22","c":"cyan","t":10.5,"v":2.4},{"s":"c22","c":"cyan","t":10.54,"v":0},
{"s":"c23","c":"orange","t":10.51,"v":0},{"s":"c23","c":"orange","t":10.55,"v":1.2},{"s":"c23","c":"orange","t":10.59,"v":0},
{"s":"c24","c":"purple","t":10.68,"v":0},{"s":"c24","c":"purple","t":10.72,"v":0.9},{"s":"c24","c":"purple","t":10.76,"v":0},
{"s":"c25","c":"pink","t":10.74,"v":0},{"s":"c25","c":"pink","t":10.78,"v":0.7},{"s":"c25","c":"pink","t":10.82,"v":0}
],
"D":[
{"s":"db1","c":"gray","t":0,"v":0},{"s":"db1","c":"gray","t":20,"v":0},
{"s":"db2","c":"mgreen","t":2.2,"v":0},{"s":"db2","c":"mgreen","t":9.5,"v":0},
{"s":"d1","c":"mgreen","t":2.6,"v":0},{"s":"d1","c":"mgreen","t":2.72,"v":30},{"s":"d1","c":"mgreen","t":2.77,"v":35.4},{"s":"d1","c":"mgreen","t":2.83,"v":10},{"s":"d1","c":"mgreen","t":2.9,"v":3},{"s":"d1","c":"mgreen","t":3.05,"v":0.5},{"s":"d1","c":"mgreen","t":3.2,"v":0},
{"s":"d3","c":"pink","t":6.25,"v":0},{"s":"d3","c":"pink","t":6.3,"v":0.3},{"s":"d3","c":"pink","t":6.35,"v":0},
{"s":"d2","c":"magenta","t":8.98,"v":0},{"s":"d2","c":"magenta","t":9.06,"v":2.9},{"s":"d2","c":"magenta","t":9.15,"v":0}
]
},
"vconcat":[
{
"width":1019,"height":468,
"layer":[
{"layer":[
{"data":{"name":"A"},"mark":{"type":"line"},
 "encoding":{
  "x":{"field":"t","type":"quantitative","scale":{"domain":[0,19.75],"nice":false,"zero":false},
   "axis":{"title":"Time, min","labelOverlap":false,"tickCount":200,"values":[0.5,1,1.5,2,2.5,3,3.5,4,4.5,5,5.5,6,6.5,7,7.5,8,8.5,9,9.5,10,10.5,11,11.5,12,12.5,13,13.5,14,14.5,15,15.5,16,16.5,17,17.5,18,18.5,19,19.5],
    "labelExpr":"datum.value % 1 === 0 ? format(datum.value, 'd') : ''","labelFont":"Liberation Sans","labelFontWeight":"bold","labelFontSize":7,"labelColor":"#111","tickSize":3,"labelPadding":0,
    "titleFont":"Liberation Serif","titleFontSize":14,"titleFontWeight":"bold","titleColor":"#000","titlePadding":9}},
  "y":{"field":"v","type":"quantitative","scale":{"domain":[0,131],"nice":false},
   "axis":{"title":"Indensity, cps","labelOverlap":false,"tickCount":200,"values":[0,5,10,15,20,25,30,35,40,45,50,55,60,65,70,75,80,85,90,95,100,105,110,115,120,125,130],
    "labelExpr":"replace(format(datum.value*1000000, '.2e'), '+', '')","labelFont":"Liberation Sans","labelFontWeight":"bold","labelFontSize":6.5,"labelColor":"#111","tickSize":3,"labelPadding":2,
    "titleFont":"Liberation Serif","titleFontSize":15,"titleFontWeight":"bold","titleColor":"#000","titlePadding":16}},
  "detail":{"field":"s"},
  "color":{"field":"c","type":"nominal","legend":null,
   "scale":{"domain":["red","pink","magenta","purple","blue","navy","green","lime","yellow","orange","cyan","teal","gray","basered","dteal","dgreen","olive","bgreen","ygreen","tan","mgreen","black"],
    "range":["#f23b3b","#ff4a9e","#e13fe0","#9b62f3","#4a6cf0","#2b2bb8","#6fe36f","#b3e33f","#f5c443","#f79a52","#3dd8b8","#27a38f","#9a9a9a","#dd5575","#1f6d6d","#2c7d3a","#8d8a1f","#2fc02f","#b9d23c","#c8926a","#45a845","#222222"]}}
 }},
{"data":{"name":"AD"},"mark":{"type":"rule","color":"#777","strokeWidth":0.6},
 "encoding":{"x":{"field":"t","type":"quantitative"},"y":{"field":"v","type":"quantitative"},"x2":{"field":"t2"},"y2":{"field":"v2"}}},
{"data":{"name":"AL"},"mark":{"type":"text","font":"Liberation Serif","fontSize":7.5,"color":"#333","baseline":"middle","align":"center"},
 "encoding":{"x":{"field":"t","type":"quantitative"},"y":{"field":"v","type":"quantitative"},"text":{"field":"lab"}}},
{"data":{"name":"one"},"mark":{"type":"text","text":"A","font":"Liberation Sans","fontSize":31,"fontWeight":"bold","baseline":"middle","align":"center","color":"#000"},
 "encoding":{"x":{"datum":1.11},"y":{"datum":132.1}}},
{"data":{"name":"one"},"mark":{"type":"text","text":"Mixed standards","font":"Liberation Sans","fontSize":30,"fontWeight":"bold","baseline":"middle","align":"center","color":"#000"},
 "encoding":{"x":{"datum":10.55},"y":{"datum":111.1}}},
{"data":{"name":"one"},"mark":{"type":"point","shape":"diamond","filled":true,"color":"#2a3fd0","size":30,"opacity":1},
 "encoding":{"x":{"datum":-0.07},"y":{"datum":6.7}}}
]},
{"layer":[
{"data":{"name":"I"},"mark":{"type":"line","strokeWidth":1},
 "encoding":{
  "x":{"field":"t","type":"quantitative","scale":{"domain":[0,11.2],"range":[30,381.7],"nice":false,"zero":false},
   "axis":{"orient":"bottom","offset":-177,"title":"Time, min","labelOverlap":false,"tickCount":200,"values":[0.5,1,1.5,2,2.5,3,3.5,4,4.5,5,5.5,6,6.5,7,7.5,8,8.5,9,9.5,10,10.5,11],
    "labelExpr":"datum.value % 1 === 0 ? format(datum.value, 'd') : ''","labelFont":"Liberation Sans","labelFontSize":4,"labelColor":"#444","tickSize":1.5,"labelPadding":1,
    "titleFont":"Liberation Sans","titleFontSize":4,"titleFontWeight":"normal","titleColor":"#666","titlePadding":1}},
  "y":{"field":"v","type":"quantitative","scale":{"domain":[0,28.2],"range":[291,0],"nice":false},
   "axis":{"orient":"left","offset":-30,"title":null,"labelOverlap":false,"tickCount":200,"values":[0,1,2,3,4,5,6,7,8,9,10,11,12,13,14,15,16,17,18,19,20,21,22,23,24,25,26,27,28],
    "labelExpr":"replace(format(datum.value*1000000, '.1e'), '+', '')","labelFont":"Liberation Sans","labelFontSize":3.5,"labelColor":"#444","tickSize":1.5,"labelPadding":1}},
  "detail":{"field":"s"},
  "color":{"field":"c","type":"nominal","legend":null}
 }},
{"data":{"name":"ID"},"mark":{"type":"rule","color":"#777","strokeWidth":0.6},
 "encoding":{"x":{"field":"t","type":"quantitative"},"y":{"field":"v","type":"quantitative"},"x2":{"field":"t2"},"y2":{"field":"v2"}}},
{"data":{"name":"IL"},"mark":{"type":"text","font":"Liberation Serif","fontSize":6.5,"color":"#333","baseline":"middle","align":"center"},
 "encoding":{"x":{"field":"t","type":"quantitative"},"y":{"field":"v","type":"quantitative"},"text":{"field":"lab"}}},
{"data":{"name":"ILB"},"mark":{"type":"text","font":"Liberation Serif","fontSize":10,"color":"#333","baseline":"middle","align":"center"},
 "encoding":{"x":{"field":"t","type":"quantitative"},"y":{"field":"v","type":"quantitative"},"text":{"field":"lab"}}},
{"data":{"name":"one"},"mark":{"type":"point","shape":"diamond","filled":true,"color":"#2a3fd0","size":16,"opacity":1},
 "encoding":{"x":{"datum":-0.08},"y":{"datum":0.2}}}
]}
],
"resolve":{"scale":{"x":"independent","y":"independent"},"axis":{"x":"independent","y":"independent"}}
},
{
"width":1019,"height":409,
"layer":[
{"data":{"name":"B"},"mark":{"type":"line"},
 "encoding":{
  "x":{"field":"t","type":"quantitative","scale":{"domain":[0,19.75],"nice":false,"zero":false},
   "axis":{"title":"Time, min","labelOverlap":false,"tickCount":200,"values":[0.5,1,1.5,2,2.5,3,3.5,4,4.5,5,5.5,6,6.5,7,7.5,8,8.5,9,9.5,10,10.5,11,11.5,12,12.5,13,13.5,14,14.5,15,15.5,16,16.5,17,17.5,18,18.5,19,19.5],
    "labelExpr":"datum.value % 1 === 0 ? format(datum.value, 'd') : ''","labelFont":"Liberation Sans","labelFontSize":6.5,"labelColor":"#444","tickSize":3,"labelPadding":3,
    "titleFont":"Liberation Serif","titleFontSize":14,"titleFontWeight":"bold","titleColor":"#000","titlePadding":8}},
  "y":{"field":"v","type":"quantitative","scale":{"domain":[0,146.5],"nice":false},
   "axis":{"title":"Indensity, cps","labelOverlap":false,"tickCount":200,"values":[0,5,10,15,20,25,30,35,40,45,50,55,60,65,70,75,80,85,90,95,100,105,110,115,120,125,130,135,140],
    "labelExpr":"replace(format(datum.value*1000000, '.2e'), '+', '')","labelFont":"Liberation Sans","labelFontSize":6.5,"labelColor":"#444","tickSize":3,"labelPadding":2,
    "titleFont":"Liberation Serif","titleFontSize":15,"titleFontWeight":"bold","titleColor":"#000","titlePadding":16}},
  "detail":{"field":"s"},
  "color":{"field":"c","type":"nominal","legend":null,
   "scale":{"domain":["red","pink","magenta","purple","blue","navy","green","lime","yellow","orange","cyan","teal","gray","basered","dteal","dgreen","olive","bgreen","ygreen","tan","mgreen","black"],
    "range":["#f23b3b","#ff4a9e","#e13fe0","#9b62f3","#4a6cf0","#2b2bb8","#6fe36f","#b3e33f","#f5c443","#f79a52","#3dd8b8","#27a38f","#9a9a9a","#dd5575","#1f6d6d","#2c7d3a","#8d8a1f","#2fc02f","#b9d23c","#c8926a","#45a845","#222222"]}}
 }},
{"data":{"name":"one"},"mark":{"type":"text","text":"B","font":"Liberation Sans","fontSize":31,"fontWeight":"bold","baseline":"middle","align":"center","color":"#000"},
 "encoding":{"x":{"datum":1.6},"y":{"datum":131.1}}},
{"data":{"name":"one"},"mark":{"type":"text","text":"FFE-EA","font":"Liberation Sans","fontSize":30,"fontWeight":"bold","baseline":"middle","align":"center","color":"#000"},
 "encoding":{"x":{"datum":9.87},"y":{"datum":118.2}}},
{"data":{"name":"one"},"mark":{"type":"point","shape":"diamond","filled":true,"color":"#2a3fd0","size":30,"opacity":1},
 "encoding":{"x":{"datum":-0.07},"y":{"datum":7.2}}}
]
},
{
"hconcat":[
{
"width":490,"height":283,
"layer":[
{"data":{"name":"C"},"mark":{"type":"line","strokeWidth":1},
 "encoding":{
  "x":{"field":"t","type":"quantitative","scale":{"domain":[0,20],"nice":false,"zero":false},
   "axis":{"title":"Time, min","labelOverlap":false,"tickCount":200,"values":[0,1,2,3,4,5,6,7,8,9,10,11,12,13,14,15,16,17,18,19,20],
    "labelExpr":"datum.value % 5 === 0 ? format(datum.value, 'd') : ''","labelFont":"Liberation Sans","labelFontSize":6,"labelColor":"#555","tickSize":3,"labelPadding":2,"domainColor":"#777","tickColor":"#777",
    "titleFont":"Liberation Serif","titleFontSize":15,"titleFontWeight":"bold","titleColor":"#000","titlePadding":2}},
  "y":{"field":"v","type":"quantitative","scale":{"domain":[0,40.3],"nice":false},
   "axis":{"title":"Indensity, 10^6","labelOverlap":false,"tickCount":200,"values":[0,2,4,6,8,10,12,14,16,18,20,22,24,26,28,30,32,34,36,38,40],
    "labelExpr":"datum.value % 10 === 0 ? format(datum.value, 'd') : ''","labelFont":"Liberation Sans","labelFontSize":6,"labelColor":"#555","tickSize":3,"labelPadding":2,"domainColor":"#777","tickColor":"#777",
    "titleFont":"Liberation Serif","titleFontSize":15,"titleFontWeight":"bold","titleColor":"#000","titlePadding":14}},
  "detail":{"field":"s"},
  "color":{"field":"c","type":"nominal","legend":null,
   "scale":{"domain":["red","pink","magenta","purple","blue","navy","green","lime","yellow","orange","cyan","teal","gray","basered","dteal","dgreen","olive","bgreen","ygreen","tan","mgreen","black"],
    "range":["#f23b3b","#ff4a9e","#e13fe0","#9b62f3","#4a6cf0","#2b2bb8","#6fe36f","#b3e33f","#f5c443","#f79a52","#3dd8b8","#27a38f","#9a9a9a","#dd5575","#1f6d6d","#2c7d3a","#8d8a1f","#2fc02f","#b9d23c","#c8926a","#45a845","#222222"]}}
 }},
{"data":{"name":"one"},"mark":{"type":"text","text":"C","font":"Liberation Sans","fontSize":28,"fontWeight":"bold","baseline":"middle","align":"center","color":"#000"},
 "encoding":{"x":{"datum":1.94},"y":{"datum":39.3}}},
{"data":{"name":"one"},"mark":{"type":"text","text":"FFE-EA","font":"Liberation Sans","fontSize":30,"fontWeight":"bold","baseline":"middle","align":"center","color":"#000"},
 "encoding":{"x":{"datum":13.65},"y":{"datum":38.2}}},
{"data":{"name":"one"},"mark":{"type":"text","text":"(+)EIC","font":"Liberation Sans","fontSize":30,"fontWeight":"bold","baseline":"middle","align":"center","color":"#000"},
 "encoding":{"x":{"datum":13.65},"y":{"datum":30.3}}}
]
},
{
"width":490,"height":283,
"layer":[
{"data":{"name":"D"},"mark":{"type":"line","strokeWidth":1},
 "encoding":{
  "x":{"field":"t","type":"quantitative","scale":{"domain":[0,20],"nice":false,"zero":false},
   "axis":{"title":"Time, min","labelOverlap":false,"tickCount":200,"values":[1,2,3,4,5,6,7,8,9,10,11,12,13,14,15,16,17,18,19,20],
    "labelExpr":"datum.value % 5 === 0 ? format(datum.value, 'd') : ''","labelFont":"Liberation Sans","labelFontSize":6,"labelColor":"#555","tickSize":3,"labelPadding":2,"domainColor":"#777","tickColor":"#777",
    "titleFont":"Liberation Serif","titleFontSize":15,"titleFontWeight":"bold","titleColor":"#000","titlePadding":2}},
  "y":{"field":"v","type":"quantitative","scale":{"domain":[0,41.4],"nice":false},
   "axis":{"title":"Indensity, 10^6","labelOverlap":false,"tickCount":200,"values":[0,2,4,6,8,10,12,14,16,18,20,22,24,26,28,30,32,34,36,38,40],
    "labelExpr":"datum.value % 10 === 0 ? format(datum.value, 'd') : ''","labelFont":"Liberation Sans","labelFontSize":6,"labelColor":"#555","tickSize":3,"labelPadding":2,"domainColor":"#777","tickColor":"#777",
    "titleFont":"Liberation Serif","titleFontSize":15,"titleFontWeight":"bold","titleColor":"#000","titlePadding":14}},
  "detail":{"field":"s"},
  "color":{"field":"c","type":"nominal","legend":null,
   "scale":{"domain":["red","pink","magenta","purple","blue","navy","green","lime","yellow","orange","cyan","teal","gray","basered","dteal","dgreen","olive","bgreen","ygreen","tan","mgreen","black"],
    "range":["#f23b3b","#ff4a9e","#e13fe0","#9b62f3","#4a6cf0","#2b2bb8","#6fe36f","#b3e33f","#f5c443","#f79a52","#3dd8b8","#27a38f","#9a9a9a","#dd5575","#1f6d6d","#2c7d3a","#8d8a1f","#2fc02f","#b9d23c","#c8926a","#45a845","#222222"]}}
 }},
{"data":{"name":"one"},"mark":{"type":"text","text":"D","font":"Liberation Sans","fontSize":28,"fontWeight":"bold","baseline":"middle","align":"center","color":"#000"},
 "encoding":{"x":{"datum":1.49},"y":{"datum":40.4}}},
{"data":{"name":"one"},"mark":{"type":"text","text":"FFE-EA","font":"Liberation Sans","fontSize":30,"fontWeight":"bold","baseline":"middle","align":"center","color":"#000"},
 "encoding":{"x":{"datum":13.73},"y":{"datum":39.2}}},
{"data":{"name":"one"},"mark":{"type":"text","text":"(-)EIC","font":"Liberation Sans","fontSize":30,"fontWeight":"bold","baseline":"middle","align":"center","color":"#000"},
 "encoding":{"x":{"datum":13.73},"y":{"datum":31.2}}}
]
}
],
"spacing":38,"bounds":"flush"
}
],
"spacing":71,
"bounds":"flush"
}
